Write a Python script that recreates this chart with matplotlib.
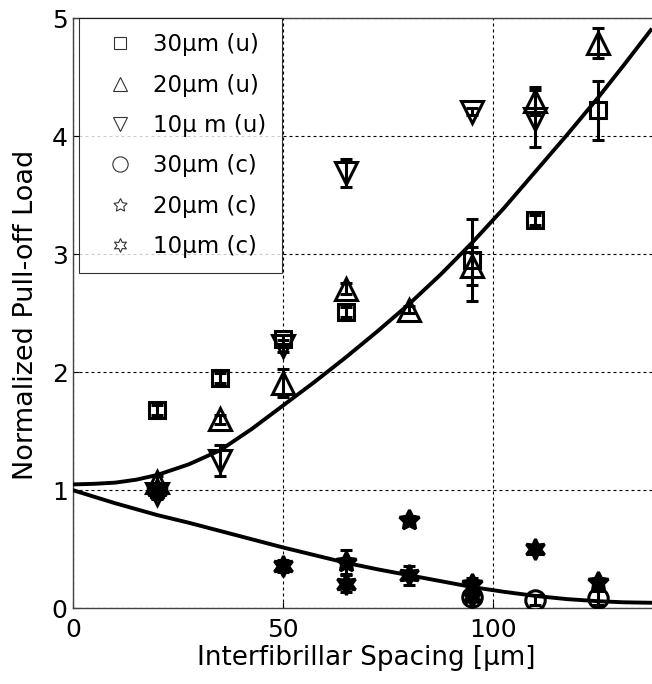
import matplotlib
matplotlib.use("Agg")
import matplotlib.pyplot as plt
from matplotlib.lines import Line2D

plt.rcParams['font.family'] = ['DejaVu Sans']

# ---- data ----
sq_x = [20, 35, 50, 65, 95, 110, 125]
sq_y = [1.68, 1.95, 2.28, 2.51, 2.95, 3.29, 4.22]
sq_e = [0.04, 0.04, 0.04, 0.04, 0.35, 0.04, 0.25]

tu_x = [20, 35, 50, 65, 80, 95, 110, 125]
tu_y = [1.07, 1.60, 1.91, 2.71, 2.53, 2.90, 4.30, 4.79]
tu_e = [0.05, 0.04, 0.12, 0.05, 0.03, 0.16, 0.12, 0.13]

td_x = [20, 35, 50, 65, 95, 110]
td_y = [0.97, 1.25, 2.22, 3.69, 4.21, 4.15]
td_e = [0.04, 0.13, 0.05, 0.12, 0.03, 0.24]

ci_x = [95, 110, 125]
ci_y = [0.10, 0.07, 0.09]
ci_e = [0.03, 0.04, 0.06]

s5_x = [20, 65, 80, 95, 125]
s5_y = [1.00, 0.39, 0.75, 0.21, 0.22]
s5_e = [0.03, 0.10, 0.03, 0.05, 0.03]

s6_x = [20, 50, 65, 80, 95, 110]
s6_y = [1.00, 0.36, 0.21, 0.28, 0.10, 0.50]
s6_e = [0.03, 0.05, 0.07, 0.08, 0.04, 0.04]

fit_x = [0, 5, 10, 15, 20, 27.5, 35, 42.5, 50, 57.5, 65, 72.5, 80, 87.5, 95, 102.5, 110, 117.5,
         125, 131, 137.5]
fit_up = [1.05, 1.055, 1.065, 1.09, 1.13, 1.22, 1.34, 1.52, 1.72, 1.92, 2.13, 2.35, 2.58, 2.83, 3.10,
          3.39, 3.70, 4.01, 4.33, 4.60, 4.90]
fit_lo = [1.00, 0.945, 0.89, 0.84, 0.79, 0.725, 0.655, 0.585, 0.515, 0.45, 0.385, 0.33, 0.28, 0.23,
          0.18, 0.14, 0.105, 0.078, 0.06, 0.051, 0.047]

labels = ["30μm (u)", "20μm (u)", "10μ m (u)", "30μm (c)", "20μm (c)", "10μm (c)"]
markers = ['s', '^', 'v', 'o', (5, 1, 0), (6, 1, 0)]
msizes = [12, 16, 16, 14, 15, 15]
fills = ['none', 'none', 'none', 'none', 'black', 'black']
leg_ms = [8.5, 10.5, 10.5, 11, 10, 10]

W, H = 652, 684
fig = plt.figure(figsize=(W / 100, H / 100), dpi=100)
L, T, B = 73.3, 18.3, 608.3
XMAX = 140
R = L + XMAX * 4.2
ax = fig.add_axes([L / W, 1 - B / H, (R - L) / W, (B - T) / H])

ax.plot(fit_x, fit_up, color='black', lw=2.8, zorder=3)
ax.plot(fit_x, fit_lo, color='black', lw=2.8, zorder=3)

series = [(sq_x, sq_y, sq_e), (tu_x, tu_y, tu_e), (td_x, td_y, td_e),
          (ci_x, ci_y, ci_e), (s5_x, s5_y, s5_e), (s6_x, s6_y, s6_e)]
for (xs, ys, es), m, ms, fc in zip(series, markers, msizes, fills):
    ax.errorbar(xs, ys, yerr=es, fmt='none', ecolor='black', elinewidth=2.2,
                capsize=4, capthick=2.2, zorder=4)
    ax.plot(xs, ys, linestyle='none', marker=m, markersize=ms, markerfacecolor=fc,
            markeredgecolor='black', markeredgewidth=2.2, zorder=5)

ax.set_xlim(0, XMAX)
ax.set_ylim(0, 5)
ax.set_xticks([0, 50, 100])
ax.set_yticks([0, 1, 2, 3, 4, 5])
ax.grid(True, color='black', linestyle=(0, (2.7, 2.7)), linewidth=0.8)
ax.set_axisbelow(True)
ax.tick_params(direction='in', length=4, width=0.8, labelsize=18, pad=7, colors='black')
ax.tick_params(axis='y', pad=4)
for s in ['left', 'bottom', 'top']:
    ax.spines[s].set_color('#444444')
    ax.spines[s].set_linewidth(1.0)
ax.spines['right'].set_visible(False)

ax.set_xlabel("Interfibrillar Spacing [μm]", fontsize=18.8)
ax.xaxis.set_label_coords((366 - L) / (R - L), -(645 - B) / (B - T))
ax.xaxis.label.set_va('top')
ax.set_ylabel("Normalized Pull-off Load", fontsize=19.5)
ax.yaxis.set_label_coords(-(L - 26) / (R - L), (B - 315) / (B - T))
ax.yaxis.label.set_va('center')

handles = [Line2D([], [], linestyle='none', marker=m, markersize=ms, markerfacecolor='none',
                  markeredgecolor='#333333', markeredgewidth=0.8) for m, ms in zip(markers, leg_ms)]
leg = ax.legend(handles, labels, loc='upper left', bbox_to_anchor=((79 - L) / (R - L), 1.0),
                fontsize=16.5, frameon=True, fancybox=False, edgecolor='black',
                labelspacing=0.76, handletextpad=0.3, borderpad=0.65, handlelength=2.3,
                borderaxespad=0)
leg.get_frame().set_linewidth(0.8)
leg.set_zorder(10)

fig.savefig("out.png", dpi=100)
